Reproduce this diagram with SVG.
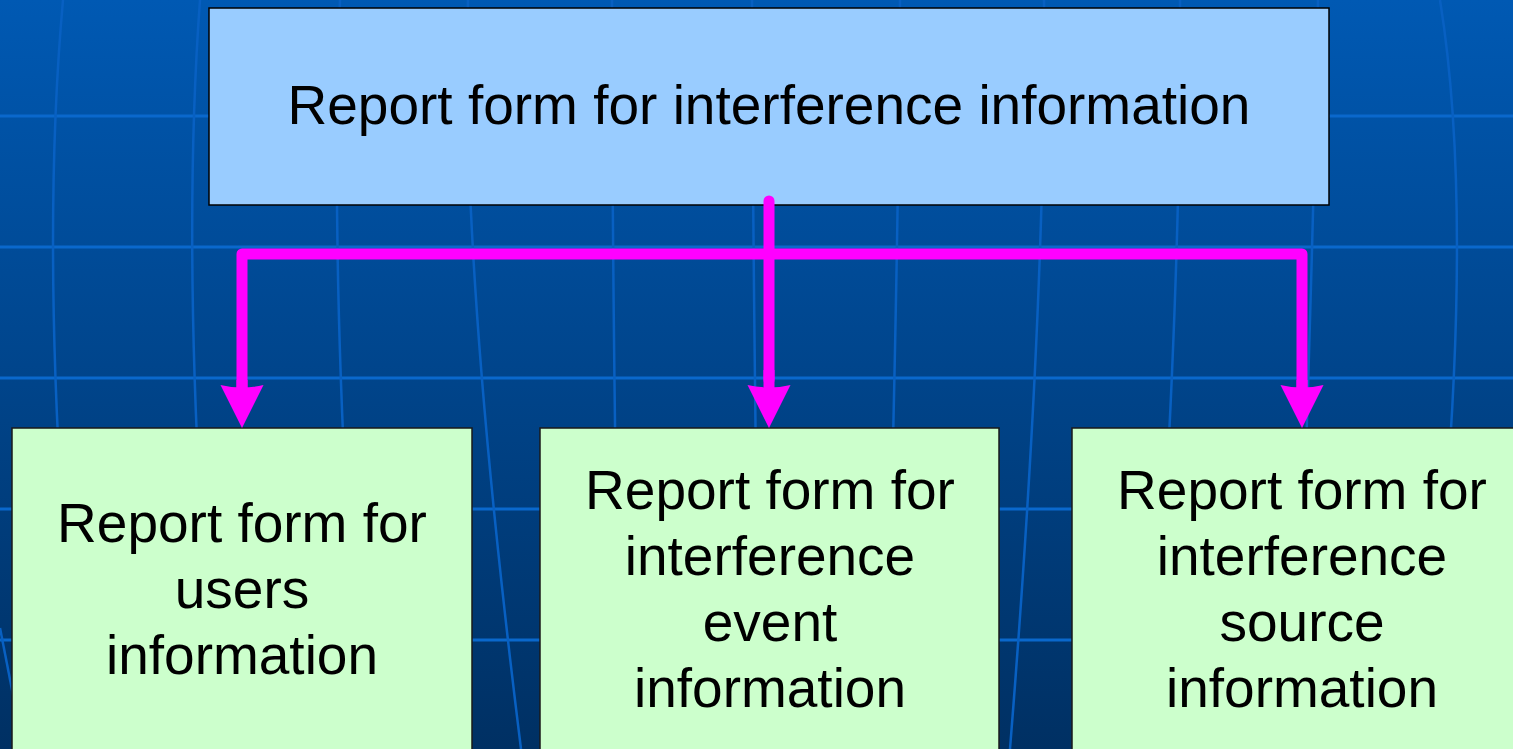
<svg xmlns="http://www.w3.org/2000/svg" width="1513" height="749" viewBox="0 0 1513 749">
  <defs>
    <linearGradient id="bg" x1="0" y1="0" x2="0" y2="1">
      <stop offset="0" stop-color="#0059b3"/>
      <stop offset="1" stop-color="#003063"/>
    </linearGradient>
    <marker id="arr" markerUnits="userSpaceOnUse" markerWidth="44" markerHeight="44" viewBox="0 0 44 44" refX="5" refY="22" orient="auto">
      <path d="M43,22 L0,0.5 Q5,22 0,43.5 Z" fill="#ff00ff"/>
    </marker>
    <style>
      .grid { fill: none; }
      .gh { stroke: #0a68cc; stroke-width: 3; }
      .gv { stroke: #0860c2; stroke-width: 2.5; }
      .top { fill: #99ccff; stroke: #000; stroke-width: 1.5; }
      .leaf { fill: #ccffcc; stroke: #1a1a1a; stroke-width: 1.5; }
      .lbl { font-family: "Liberation Sans", Arial, sans-serif; font-size: 55px; fill: #000; text-anchor: middle; }
      .conn { fill: none; stroke: #ff00ff; stroke-width: 11; stroke-linejoin: round; stroke-linecap: round; }
      .conn-a { fill: none; stroke: #ff00ff; stroke-width: 11; stroke-linecap: butt; }
    </style>
  </defs>

  <g id="background">
    <rect x="0" y="0" width="1513" height="749" fill="url(#bg)"/>
    <g class="grid gh">
      <line x1="0" y1="116" x2="1513" y2="116"/>
      <line x1="0" y1="247" x2="1513" y2="247"/>
      <line x1="0" y1="378" x2="1513" y2="378"/>
      <line x1="0" y1="509" x2="1513" y2="509"/>
      <line x1="0" y1="640" x2="1513" y2="640"/>
    </g>
    <g class="grid gv">
      <path d="M63,0 Q36,300 82,749"/>
      <path d="M200,0 Q178,300 218,749"/>
      <path d="M340,0 Q328,300 362,749"/>
      <path d="M468,0 Q460,260 521,749"/>
      <path d="M612,0 Q612,300 620,749"/>
      <path d="M752,0 Q753,300 760,749"/>
      <path d="M900,0 Q898,300 885,749"/>
      <path d="M1044,0 Q1046,300 1010,749"/>
      <path d="M1180,0 Q1182,300 1150,749"/>
      <path d="M1318,0 Q1312,300 1296,749"/>
      <path d="M1440,0 Q1482,260 1420,749"/>
      <path d="M0,628 L14,700"/>
    </g>
  </g>

  <g id="node-root">
    <rect class="top" x="209" y="8" width="1120" height="197"/>
    <text class="lbl" x="769" y="124">Report form for interference information</text>
  </g>

  <g id="node-users">
    <rect class="leaf" x="12" y="428" width="460" height="330"/>
    <text class="lbl" x="242" y="542">Report form for</text>
    <text class="lbl" x="242" y="608">users</text>
    <text class="lbl" x="242" y="674">information</text>
  </g>

  <g id="node-event">
    <rect class="leaf" x="540" y="428" width="459" height="330"/>
    <text class="lbl" x="770" y="509">Report form for</text>
    <text class="lbl" x="770" y="575">interference</text>
    <text class="lbl" x="770" y="641">event</text>
    <text class="lbl" x="770" y="707">information</text>
  </g>

  <g id="node-source">
    <rect class="leaf" x="1072" y="428" width="460" height="330"/>
    <text class="lbl" x="1302" y="509">Report form for</text>
    <text class="lbl" x="1302" y="575">interference</text>
    <text class="lbl" x="1302" y="641">source</text>
    <text class="lbl" x="1302" y="707">information</text>
  </g>

  <g id="connectors">
    <path class="conn" d="M242,390 L242,254 L1302,254 L1302,390"/>
    <path class="conn" d="M769,201 L769,380"/>
    <path class="conn-a" d="M242,380 L242,390" marker-end="url(#arr)"/>
    <path class="conn-a" d="M769,370 L769,390" marker-end="url(#arr)"/>
    <path class="conn-a" d="M1302,380 L1302,390" marker-end="url(#arr)"/>
  </g>
</svg>
